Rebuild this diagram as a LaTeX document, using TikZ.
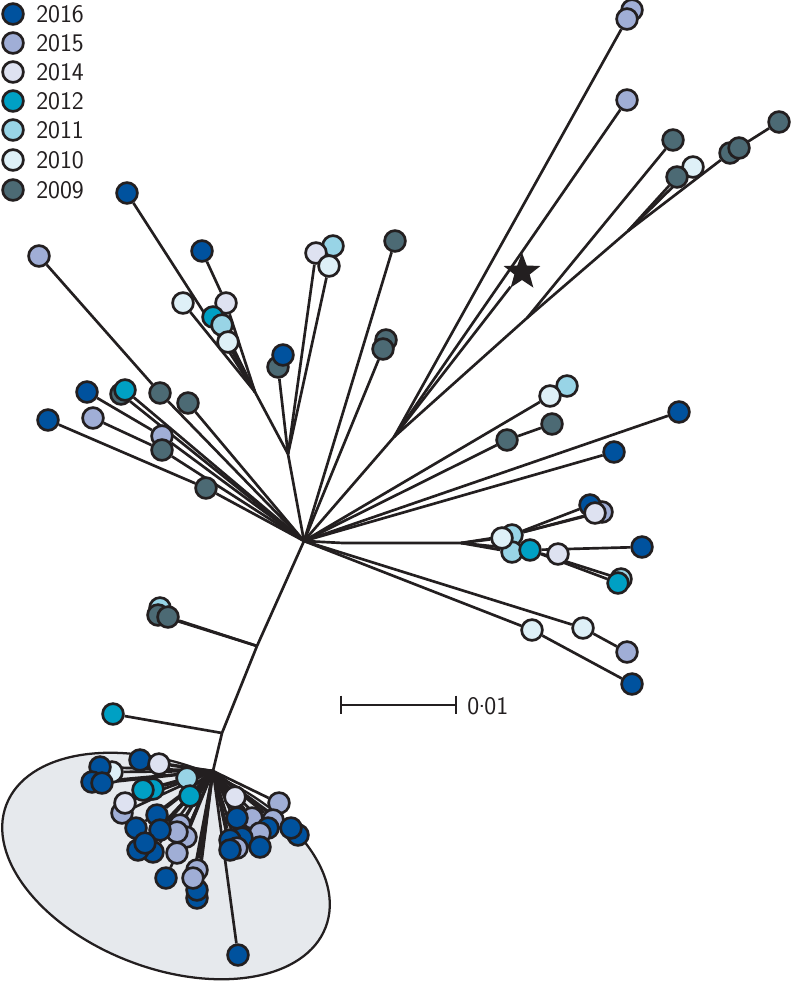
\documentclass[tikz,border=0pt]{standalone}
\usetikzlibrary{shapes.geometric}
\pgfdeclarelayer{shade}
\pgfdeclarelayer{edges}
\pgfsetlayers{shade,edges,main}

\definecolor{ink}{RGB}{35,31,32}
\definecolor{y16}{RGB}{0,82,158}
\definecolor{y15}{RGB}{160,174,214}
\definecolor{y14}{RGB}{222,226,241}
\definecolor{y12}{RGB}{0,160,196}
\definecolor{y11}{RGB}{152,212,230}
\definecolor{y10}{RGB}{222,240,247}
\definecolor{y09}{RGB}{76,106,116}
\definecolor{cladefill}{RGB}{230,233,237}

\tikzset{every picture/.style={line width=0.75pt}}
\tikzset{
  tip/.style={circle,draw=ink,line width=2pt,fill=#1,minimum size=15.6pt,inner sep=0pt},
  branch/.style={draw=ink,line width=2pt},
  yeartext/.style={anchor=west,inner sep=0pt,text=ink,font=\fontsize{19}{22}\selectfont\sffamily},
}
\def\notwig{-}
\newcommand{\twig}[2]{\edef\twigfrom{#1}\ifx\twigfrom\notwig\else
  \begin{pgfonlayer}{edges}\draw[branch] (#1) -- (#2);\end{pgfonlayer}\fi}

\begin{document}
\begin{tikzpicture}[x=0.75pt,y=0.75pt,yscale=-1,xscale=1]
\useasboundingbox (0,0) rectangle (791,981);

%Shape: Ellipse round the 2016 clade
\begin{pgfonlayer}{shade}
\draw[fill=cladefill,draw=ink,line width=1.7pt,rotate around={21:(166,866)}] (166,866) ellipse [x radius=171,y radius=102];
\end{pgfonlayer}

%Internal branch points
\coordinate (hub) at (304,541);
\coordinate (jUL) at (288,454);
\coordinate (jUL2) at (255,392);
\coordinate (jUR0) at (394,437);
\coordinate (jUR1) at (527,318);
\coordinate (jUR2) at (628,231);
\coordinate (jR1) at (343,543);
\coordinate (jR2) at (461,543);
\coordinate (jT1) at (257,646);
\coordinate (jT2) at (222,733);
\coordinate (jB) at (213,771);

\begin{pgfonlayer}{edges}
\draw[branch] (hub) -- (jT1) -- (jT2) -- (jB);
\draw[branch] (hub) -- (jUL) -- (jUL2);
\draw[branch] (hub) -- (jUR0) -- (jUR1) -- (jUR2);
\draw[branch] (hub) -- (jR1) -- (jR2);
\end{pgfonlayer}

%Tips: name/x/y/year colour/parent
\foreach \n/\x/\y/\c/\p in {
  a1/127/193/y16/jUL2, a2/226/303/y14/jUL2, a3/202/251/y16/a2, a4/183/303/y10/jUL2,
  a5/213/317/y12/jUL2, a6/222/325/y11/jUL2, a7/228/342/y10/jUL2,
  a8/278/367/y09/jUL, a9/283/355/y16/-, a10/333/246/y11/-, a11/316/253/y14/jUL,
  a12/329/266/y10/jUL, a13/395/241/y09/hub, a14/386/340/y09/-, a15/383/349/y09/hub,
  b3/160/393/y09/hub, b1/39/256/y15/b3, b10/162/436/y15/hub, b2/87/392/y16/b10,
  b4s/121/394/y09/hub, b4/125/390/y12/hub, b5/188/403/y09/hub, b6/206/488/y09/hub,
  b7/48/420/y16/b6, b8/162/450/y09/hub, b9/93/418/y15/b8,
  c1/632/10/y15/-, c2/627/19/y15/jUR0, c3/627/100/y15/jUR0, c4/673/140/y09/jUR1,
  c6/693/167/y10/jUR2, c5/677/177/y09/jUR2, c7/730/153/y09/jUR2, c8/739/148/y09/-,
  c9/779/122/y09/c7,
  d2/567/386/y11/-, d1/550/396/y10/hub, d3/507/440/y09/hub, d4/552/424/y09/d3,
  d5/679/412/y16/hub, d6/614/452/y16/hub,
  e4/512/535/y11/jR2, e5/512/552/y11/jR2, e3/502/538/y10/jR2, e6/530/550/y12/jR2,
  e7/558/554/y14/-, e8/642/547/y16/e6, e9/621/579/y11/e6, e10/618/583/y12/e6,
  e11/602/512/y15/e4, e12/590/505/y16/e4, e13/595/513/y14/e4,
  f1/583/628/y10/hub, f2/627/652/y15/f1, f3/532/630/y10/hub, f4/632/684/y16/f3,
  g0/160/608/y11/-, g1/158/615/y09/jT1, g2/168/617/y09/jT1, g3/113/714/y12/jT2,
  h1/112/772/y10/jB, h2/100/767/y16/jB, h3/92/782/y16/jB, h4/102/783/y16/jB,
  h5/140/760/y16/jB, h6/159/764/y14/jB, h7/153/789/y12/jB, h8/143/790/y12/jB,
  h9/187/778/y11/jB, h10/190/796/y12/jB, h11/122/813/y15/jB, h12/125/803/y14/jB,
  h13/157/815/y16/jB, h14/180/825/y15/jB, h15/186/837/y15/jB, h16/177/832/y15/jB,
  h17/136/828/y16/jB, h18/160/830/y16/jB, h19/153/852/y16/jB, h20/138/850/y16/jB,
  h21/145/843/y16/jB, h22/177/853/y15/jB, h23/166/878/y16/jB,
  h24/197/898/y16/jB, h25/197/890/y16/jB, h26/197/870/y15/jB, h27/193/878/y15/jB,
  i1/235/797/y14/jB, i2/279/803/y15/jB, i3/252/818/y15/jB, i4/273/820/y15/jB,
  i5/237/818/y16/jB, i7/298/835/y16/jB, i8/291/828/y16/jB, i6/268/828/y16/jB,
  i9/260/833/y15/jB, i10/242/838/y16/jB, i11/230/840/y16/jB, i12/237/848/y15/jB,
  i13/230/850/y16/jB, i14/260/847/y16/jB, i15/238/955/y16/jB}
{
  \node[tip=\c] (\n) at (\x,\y) {};
  \twig{\p}{\n}
}

%Star marker
\node[star,star points=5,star point ratio=2.4,fill=ink,minimum size=29pt,inner sep=0pt] (ref) at (522,272) {};
\begin{pgfonlayer}{edges}\draw[branch] (jUR0) -- (ref);\end{pgfonlayer}

%Scale bar
\coordinate (sbL) at (341,705);
\coordinate (sbR) at (456,705);
\draw[branch] (sbL) -- (sbR);
\draw[branch] ([yshift=-7pt]sbL) -- ([yshift=7pt]sbL);
\draw[branch] ([yshift=-7pt]sbR) -- ([yshift=7pt]sbR);
\node[yeartext] (sbtext) at (467,706) {0\kern-0.5pt\raisebox{0.28em}{.}\kern-0.5pt01};

%Legend
\foreach \k/\y/\c/\t in {l16/14/y16/2016, l15/43/y15/2015, l14/72/y14/2014, l12/101/y12/2012,
  l11/130/y11/2011, l10/160/y10/2010, l09/190/y09/2009}
{
  \node[tip=\c] (\k) at (13,\y) {};
  \node[yeartext] (\k t) at (36,\y) {\t};
}

\end{tikzpicture}
\end{document}
